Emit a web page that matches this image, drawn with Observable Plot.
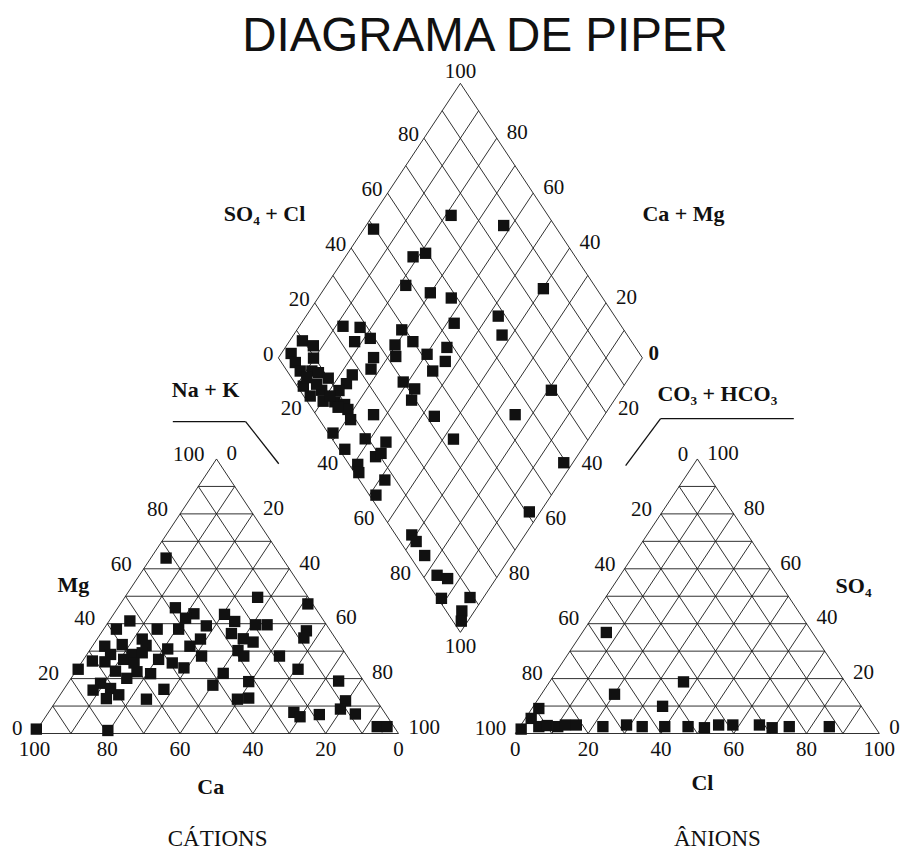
<!DOCTYPE html>
<html><head><meta charset="utf-8">
<script src="https://cdn.jsdelivr.net/npm/d3@7"></script>
<script src="https://cdn.jsdelivr.net/npm/@observablehq/plot@0.6"></script>
<style>
body{margin:0;background:#fff;}
#title{height:40px;box-sizing:border-box;padding-top:11px;padding-left:70px;text-align:center;font:47.5px/47px "Liberation Sans",Arial,sans-serif;color:#111;white-space:nowrap;}
#chart svg{display:block;}
</style></head><body>
<div id="title">DIAGRAMA DE PIPER</div>
<div id="chart"></div>
<script>
// ---------- data (percent of meq) ----------
const cationCa = [98.7,79.3,31.9,13.9,1.3,38.4,34.4,37.5,26.1,24.6,53.3,58.5,47.3,41.4,33.2,19.5,16.3,6.6,8.6,27.7,25.4,23.3,37.2,53.2,64.8,59.7,53.3,48.0,41.4,29.0,28.4,40.0,18.6,64.7,58.8,55.7,62.0,52.4,70.9,67.6,59.8,49.3,47.0,76.3,66.4,60.6,57.2,37.2,15.9,64.6,72.7,42.2,31.7,6.9,76.0,70.9,56.4,73.9,69.8,63.0,38.0,34.7,8.6,11.5,8.3,24.9,24.0,18.3,4.6,1.9];
const cationMg = [1.6,1.1,63.9,49.6,47.2,45.8,43.6,42.0,43.4,40.8,41.0,38.0,38.0,38.0,39.2,39.6,39.6,37.4,34.8,36.4,34.5,33.3,34.4,34.4,31.8,32.4,32.1,30.8,31.8,30.2,28.2,28.2,28.2,28.8,28.8,29.4,27.0,27.0,26.4,26.1,25.7,25.7,23.9,23.4,22.7,22.5,21.8,21.9,23.4,20.1,18.3,17.6,18.9,19.1,15.8,16.4,16.1,12.7,14.1,12.5,12.5,12.9,11.9,8.9,7.1,7.7,6.1,6.9,2.5,2.5];

const anionCl  = [6.6,36.8,20.1,35.5,1.9,1.6,0.8,5.2,7.3,10.4,12.2,15.2,22.8,29.0,33.6,39.8,46.2,50.9,54.3,58.2,65.5,69.5,74.0,85.0];
const anionSO4 = [36.8,18.8,14.3,9.9,9.1,5.5,1.6,2.5,2.9,2.5,3.1,3.1,2.5,3.1,2.5,2.5,2.5,2.1,3.1,3.1,3.1,2.1,2.5,2.5];

// diamond: SO4+Cl and Na+K
const diamondSO4Cl = [49.6,73.4,86.0,55.4,59.5,48.2,53.6,58.4,85.4,54.6,68.0,65.6,23.5,28.0,23.9,28.8,39.0,34.4,39.9,48.2,9.7,11.8,4.3,41.5,26.2,32.5,45.2,9.6,3.8,3.6,6.8,8.3,10.0,17.2,14.0,10.7,1.7,1.8,6.0,4.4,7.5,9.7,9.7,23.4,40.0,29.9,31.8,28.9,15.8,8.6,32.2,33.3,54.7,69.1,59.3,40.9,1.3,9.1,14.2,1.6,8.7,10.8,2.4,1.2,7.0,1.8,4.4,4.4,4.2,4.0,6.3,1.0,9.0,4.3,2.3,4.2,5.7,7.2,7.4];
const diamondNaK   = [2.7,21.5,37.8,18.6,21.4,21.8,29.9,36.6,60.2,42.0,52.8,57.3,12.0,16.9,18.0,21.7,28.8,29.7,34.0,44.4,3.5,7.4,2.7,40.2,26.1,32.0,46.5,9.7,5.5,8.4,11.6,13.7,17.4,23.4,23.4,22.6,12.0,15.7,17.8,20.2,23.5,26.7,28.5,27.5,44.8,38.7,43.1,44.3,36.5,31.1,53.5,62.9,75.4,80.9,97.5,97.0,28.7,38.6,44.9,34.9,44.7,45.6,41.2,43.0,51.5,51.8,68.9,71.3,76.2,83.2,86.7,88.6,96.3,96.5,98.2,11.4,15.3,21.1,25.4];

const tickValues = [0, 20, 40, 60, 80, 100];
const innerTicks = [20, 40, 60, 80];
const gridSteps = d3.range(0, 101, 10);

// ---------- layout (units: triangle side = 100) ----------
const SIN60 = Math.sqrt(3) / 2;
const LEFT_ORIGIN = 0, RIGHT_ORIGIN = 132.1;
const DIAMOND_CX = 117, DIAMOND_CY = 118.5;
const cat = (ca, mg) => ({x: LEFT_ORIGIN + 100 - ca - mg / 2, y: mg * SIN60});
const ani = (cl, so4) => ({x: RIGHT_ORIGIN + cl + so4 / 2, y: so4 * SIN60});
const dia = (a, c) => ({x: DIAMOND_CX - 50 + (a + c) / 2, y: DIAMOND_CY + SIN60 * (a - c)});

// grid segments
const segs = [];
for (const k of gridSteps) {
  segs.push([cat(100 - k, k), cat(0, k)]);
  segs.push([cat(k, 0), cat(k, 100 - k)]);
  segs.push([cat(100 - k, 0), cat(0, 100 - k)]);
  segs.push([ani(0, k), ani(100 - k, k)]);
  segs.push([ani(k, 0), ani(k, 100 - k)]);
  segs.push([ani(100 - k, 0), ani(0, 100 - k)]);
  segs.push([dia(k, 0), dia(k, 100)]);
  segs.push([dia(0, k), dia(100, k)]);
}

// points
const catPts = cationCa.map((ca, i) => cat(ca, cationMg[i]));
const aniPts = anionCl.map((cl, i) => ani(cl, anionSO4[i]));
const diaPts = diamondSO4Cl.map((a, i) => dia(a, diamondNaK[i]));

// tick labels
const lab = (p, t) => ({x: p.x, y: p.y, t: String(t)});
const mgLabels   = tickValues.map(t => lab(cat(100 - t, t), t));
const nakLabels  = tickValues.map(t => lab(cat(0, 100 - t), t));
const caLabels   = tickValues.map(t => lab(cat(t, 0), t));
const hcoLabels  = tickValues.map(t => lab(ani(0, 100 - t), t));
const so4Labels  = tickValues.map(t => lab(ani(100 - t, t), t));
const clLabels   = tickValues.map(t => lab(ani(t, 0), t));
const dULLabels  = [0, ...innerTicks].map(t => lab(dia(t, 0), t));
const dURLabels  = innerTicks.map(t => lab(dia(100, 100 - t), t));
const dLLLabels  = innerTicks.map(t => lab(dia(0, t), t));
const dLRLabels  = innerTicks.map(t => lab(dia(100 - t, 100), t));
const dTop = [lab(dia(100, 0), 100)];
const dBottom = [lab(dia(0, 100), 100)];
const dRight = [lab(dia(100, 100), 0)];

// axis titles (positions in layout units)
const axisTitles = [
  {x: 63.2, y: 164.0, t: "SO\u2084 + Cl"},
  {x: 178.3, y: 164.0, t: "Ca + Mg"},
  {x: 47.0, y: 108.4, t: "Na + K"},
  {x: 187.6, y: 107.0, t: "CO\u2083 + HCO\u2083"},
  {x: 10.7, y: 47.0, t: "Mg"},
  {x: 225.0, y: 46.4, t: "SO\u2084"},
  {x: 48.4, y: -17.0, t: "Ca"},
  {x: 183.5, y: -15.5, t: "Cl"}
];
const groupTitles = [
  {x: 50.3, y: -33.1, t: "CÁTIONS"},
  {x: 187.6, y: -33.1, t: "ÂNIONS"}
];
const leaders = [
  [{x: 38.0, y: 98.4}, {x: 58.0, y: 98.4}],
  [{x: 58.0, y: 98.4}, {x: 67.1, y: 85.1}],
  [{x: 208.6, y: 99.3}, {x: 172.0, y: 99.3}],
  [{x: 172.0, y: 99.3}, {x: 162.4, y: 84.5}]
];

const W = 900, H = 810;
const PXU = 3.64, PYU = 3.17, X0 = 34, Y0 = 693;
const serif = "'Liberation Serif','Times New Roman',serif";
const tk = {text: "t", fontFamily: serif, fontSize: 21, fill: "#111"};
const linkOpts = {x1: d => d[0].x, y1: d => d[0].y, x2: d => d[1].x, y2: d => d[1].y};

const chart = Plot.plot({
  width: W, height: H,
  marginTop: 0, marginRight: 0, marginBottom: 0, marginLeft: 0,
  style: {background: "none", color: "#111", overflow: "visible"},
  x: {domain: [-X0 / PXU, (W - X0) / PXU], range: [0, W], axis: null},
  y: {domain: [(Y0 - H) / PYU, Y0 / PYU], range: [H, 0], axis: null},
  marks: [
    Plot.link(segs, {...linkOpts, stroke: "#1a1a1a", strokeWidth: 0.9}),
    Plot.link(leaders, {...linkOpts, stroke: "#111", strokeWidth: 1.3}),
    Plot.dot(catPts, {x: "x", y: "y", symbol: "square", r: 6.4, fill: "#111", stroke: "none"}),
    Plot.dot(aniPts, {x: "x", y: "y", symbol: "square", r: 6.4, fill: "#111", stroke: "none"}),
    Plot.dot(diaPts, {x: "x", y: "y", symbol: "square", r: 6.4, fill: "#111", stroke: "none"}),
    Plot.text(mgLabels, {x: "x", y: "y", ...tk, textAnchor: "end", dx: -12, dy: -5}),
    Plot.text(nakLabels, {x: "x", y: "y", ...tk, textAnchor: "start", dx: 10, dy: -6}),
    Plot.text(caLabels, {x: "x", y: "y", ...tk, textAnchor: "middle", dy: 16}),
    Plot.text(hcoLabels, {x: "x", y: "y", ...tk, textAnchor: "end", dx: -9, dy: -5}),
    Plot.text(so4Labels, {x: "x", y: "y", ...tk, textAnchor: "start", dx: 10, dy: -6}),
    Plot.text(clLabels, {x: "x", y: "y", ...tk, textAnchor: "middle", dy: 16}),
    Plot.text(dULLabels, {x: "x", y: "y", ...tk, textAnchor: "end", dx: -5, dy: -4}),
    Plot.text(dURLabels, {x: "x", y: "y", ...tk, textAnchor: "start", dx: 10, dy: -6}),
    Plot.text(dLLLabels, {x: "x", y: "y", ...tk, textAnchor: "end", dx: -13, dy: -4}),
    Plot.text(dLRLabels, {x: "x", y: "y", ...tk, textAnchor: "start", dx: 12, dy: -4}),
    Plot.text(dTop, {x: "x", y: "y", ...tk, textAnchor: "middle", dy: -12}),
    Plot.text(dBottom, {x: "x", y: "y", ...tk, textAnchor: "middle", dy: 14}),
    Plot.text(dRight, {x: "x", y: "y", ...tk, fontWeight: "bold", textAnchor: "start", dx: 6, dy: -5}),
    Plot.text(axisTitles, {x: "x", y: "y", text: "t", fontFamily: serif, fontSize: 22, fontWeight: "bold", fill: "#111"}),
    Plot.text(groupTitles, {x: "x", y: "y", text: "t", fontFamily: serif, fontSize: 23, fill: "#111"})
  ]
});
document.getElementById("chart").appendChild(chart);
</script>
</body></html>
